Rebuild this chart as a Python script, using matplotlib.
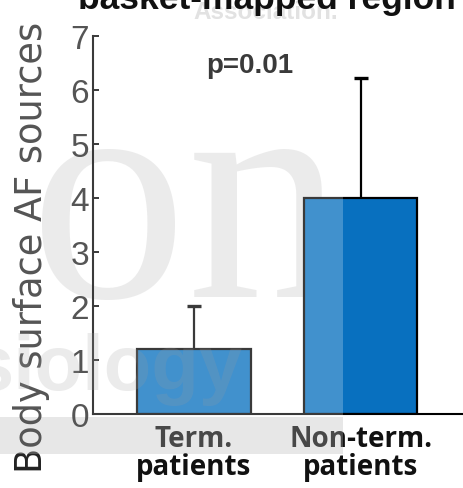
import matplotlib as mpl
mpl.use('Agg')
import matplotlib.pyplot as plt
from matplotlib.patches import Rectangle

# data
groups = ['Term.\npatients', 'Non-term.\npatients']
means = [1.2, 4.0]
err_up = [0.8, 2.22]
yticks = [0, 1, 2, 3, 4, 5, 6, 7]
p_text = 'p=0.01'
title = 'basket-mapped region'
ylabel = 'Body surface AF sources'

W, H = 464, 489
fig = plt.figure(figsize=(W / 100, H / 100), dpi=100)

def fx(px):
    return px / W

def fy(py):
    return 1 - py / H

ax = fig.add_axes([fx(93), fy(415), 1 - fx(93), fy(37) - fy(415)])
ax.set_facecolor('none')

x = list(range(1, len(groups) + 1))
ax.bar(x, means, width=0.68, color='#0870bf', edgecolor='#000000',
       linewidth=1.6, zorder=2)
eb = ax.errorbar(x, means, yerr=[[0] * len(err_up), err_up], fmt='none',
                 ecolor='#000000', elinewidth=1.6, capsize=5, capthick=2.4,
                 zorder=3)
# only the upper whisker has a cap
eb[1][0].set_visible(False)

ax.set_xlim(0.395, 2.62)
ax.set_ylim(0, 7)
ax.set_yticks(yticks)
ax.set_xticks(x)
ax.set_xticklabels(groups, fontfamily='Open Sans', fontweight='bold',
                   fontsize=20, color='#111111', linespacing=0.95)
for lbl in ax.get_yticklabels():
    lbl.set_fontfamily('Liberation Sans')
ax.tick_params(axis='y', direction='in', length=4, width=1.4, color='#000000',
               labelsize=24, labelcolor='#222222', pad=3)
ax.tick_params(axis='x', length=0, pad=7)
for s in ['top', 'right']:
    ax.spines[s].set_visible(False)
for s in ['left', 'bottom']:
    ax.spines[s].set_color('#000000')
    ax.spines[s].set_linewidth(1.5)

fig.text(fx(32), fy(247), ylabel, rotation=90, ha='center', va='center',
         fontsize=26.5, family='DejaVu Sans', color='#222222')
fig.text(fx(267), fy(9.5), title, ha='center', va='baseline', fontsize=25.5,
         family='Liberation Sans', fontweight='bold', color='#111111', zorder=5)
fig.text(fx(249.5), fy(73), p_text, ha='center', va='baseline', fontsize=20,
         family='Liberation Sans', fontweight='bold', color='#000000')

# watermark of the source picture
fig.text(fx(266), fy(19), 'Association.', ha='center', va='baseline',
         fontsize=17.5, family='Liberation Sans', fontweight='bold',
         color='#e2e2e2', zorder=1)
fig.text(fx(30), fy(297), 'on', ha='left', va='baseline', fontsize=226,
         family='Liberation Serif', color='#e6e6e6', zorder=-2)
fig.text(fx(242), fy(390), 'siology', ha='right', va='baseline', fontsize=56,
         family='Liberation Sans', fontweight='bold', color='#808080',
         alpha=0.2, zorder=3.5)
fig.add_artist(Rectangle((0, fy(455)), fx(343), fy(418) - fy(455),
                         transform=fig.transFigure, color='#e1e1e1',
                         zorder=-1, lw=0))
fig.add_artist(Rectangle((0, fy(455)), fx(343), fy(20) - fy(455),
                         transform=fig.transFigure, color='white',
                         alpha=0.23, zorder=4, lw=0))

fig.savefig('out.png', dpi=100)
